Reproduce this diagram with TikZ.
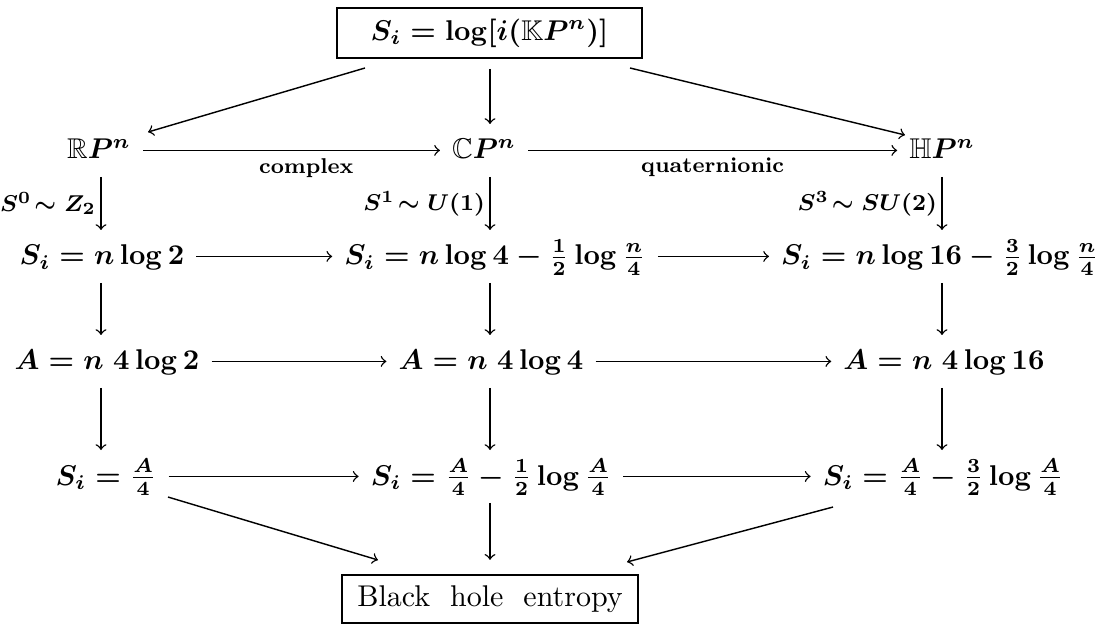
\documentclass[tikz,border=0pt]{standalone}
\usepackage{amssymb}
\begin{document}
\begin{tikzpicture}[x=0.35pt,y=-0.35pt,>=to,line width=0.5pt,
  m/.style={font=\boldmath, inner xsep=4pt, inner ysep=3pt, text height=9pt, text depth=3pt, anchor=base},
  bx/.style={draw, line width=0.6pt, font=\boldmath, inner sep=0pt},
  lbl/.style={font=\footnotesize\boldmath, inner sep=1.5pt},
  hl/.style={font=\fontsize{7.5}{9}\selectfont\bfseries, inner sep=2.5pt},
  arr/.style={->}]
\useasboundingbox (0,0) rectangle (1104,628);
\coordinate (c1) at (101,0);
\coordinate (c2) at (490,0);
\coordinate (c3) at (942,0);
\node[bx, minimum width=106.75pt, minimum height=17.5pt] (top) at (489.5,33) {$S_i=\log[i(\mathbb{K}P^n)]$};
\node[m] (RP) at (99,159) {$\mathbb{R}P^n$};
\node[m] (CP) at (484,159) {$\mathbb{C}P^n$};
\node[m] (HP) at (942,159) {$\mathbb{H}P^n$};
\node[m] (L3) at (102,265) {$S_i=n\log 2$};
\node[m] (M3) at (495,265) {$S_i=n\log 4-\frac12\log\frac n4$};
\node[m] (R3) at (940,265) {$S_i=n\log 16-\frac32\log\frac n4$};
\node[m] (L4) at (107,370) {$A=n\ 4\log 2$};
\node[m] (M4) at (491,370) {$A=n\ 4\log 4$};
\node[m] (R4) at (944,370) {$A=n\ 4\log 16$};
\node[m] (L5) at (106,485) {$S_i=\frac A4$};
\node[m] (M5) at (491,485) {$S_i=\frac A4-\frac12\log\frac A4$};
\node[m] (R5) at (943,485) {$S_i=\frac A4-\frac32\log\frac A4$};
\node[bx, minimum width=103.6pt, minimum height=16.8pt, font=\fontsize{10.5}{12}\selectfont] (bot) at (490,599) {Black\ \ hole\ \ entropy};
% from top
\draw[arr] ([shift={(-124.5,35)}]top.center) -- ([shift={(49,-18.4)}]RP.center);
\draw[arr, shorten <=3.5pt] (top.south -| c2) -- (CP.north -| c2);
\draw[arr] ([shift={(140.5,35)}]top.center) -- ([shift={(-37,-15.4)}]HP.center);
% row 2
\draw[arr] (RP) -- node[hl,below,pos=0.55]{complex} (CP);
\draw[arr] (CP) -- node[hl,below]{quaternionic} (HP);
% verticals
\draw[arr] (RP.south -| c1) -- node[lbl,left]{$S^0\!\sim Z_2$} (L3.north -| c1);
\draw[arr] (CP.south -| c2) -- node[lbl,left]{$S^1\!\sim U(1)$} (M3.north -| c2);
\draw[arr] (HP.south -| c3) -- node[lbl,left]{$S^3\!\sim SU(2)$} (R3.north -| c3);
\draw[arr] (L3.south -| c1) -- (L4.north -| c1);
\draw[arr] (M3.south -| c2) -- (M4.north -| c2);
\draw[arr] (R3.south -| c3) -- (R4.north -| c3);
\draw[arr] (L4.south -| c1) -- (L5.north -| c1);
\draw[arr] (M4.south -| c2) -- (M5.north -| c2);
\draw[arr] (R4.south -| c3) -- (R5.north -| c3);
% horizontals
\draw[arr] (L3) -- (M3);
\draw[arr] (M3) -- (R3);
\draw[arr] (L4) -- (M4);
\draw[arr] (M4) -- (R4);
\draw[arr] (L5) -- (M5);
\draw[arr] (M5) -- (R5);
% to bottom
\draw[arr] ([shift={(62,20.6)}]L5.center) -- ([shift={(-112,-39)}]bot.center);
\draw[arr, shorten >=5pt] (M5.south -| c2) -- (bot.north -| c2);
\draw[arr] ([shift={(-110,30.6)}]R5.center) -- ([shift={(137,-37)}]bot.center);
\end{tikzpicture}
\end{document}
